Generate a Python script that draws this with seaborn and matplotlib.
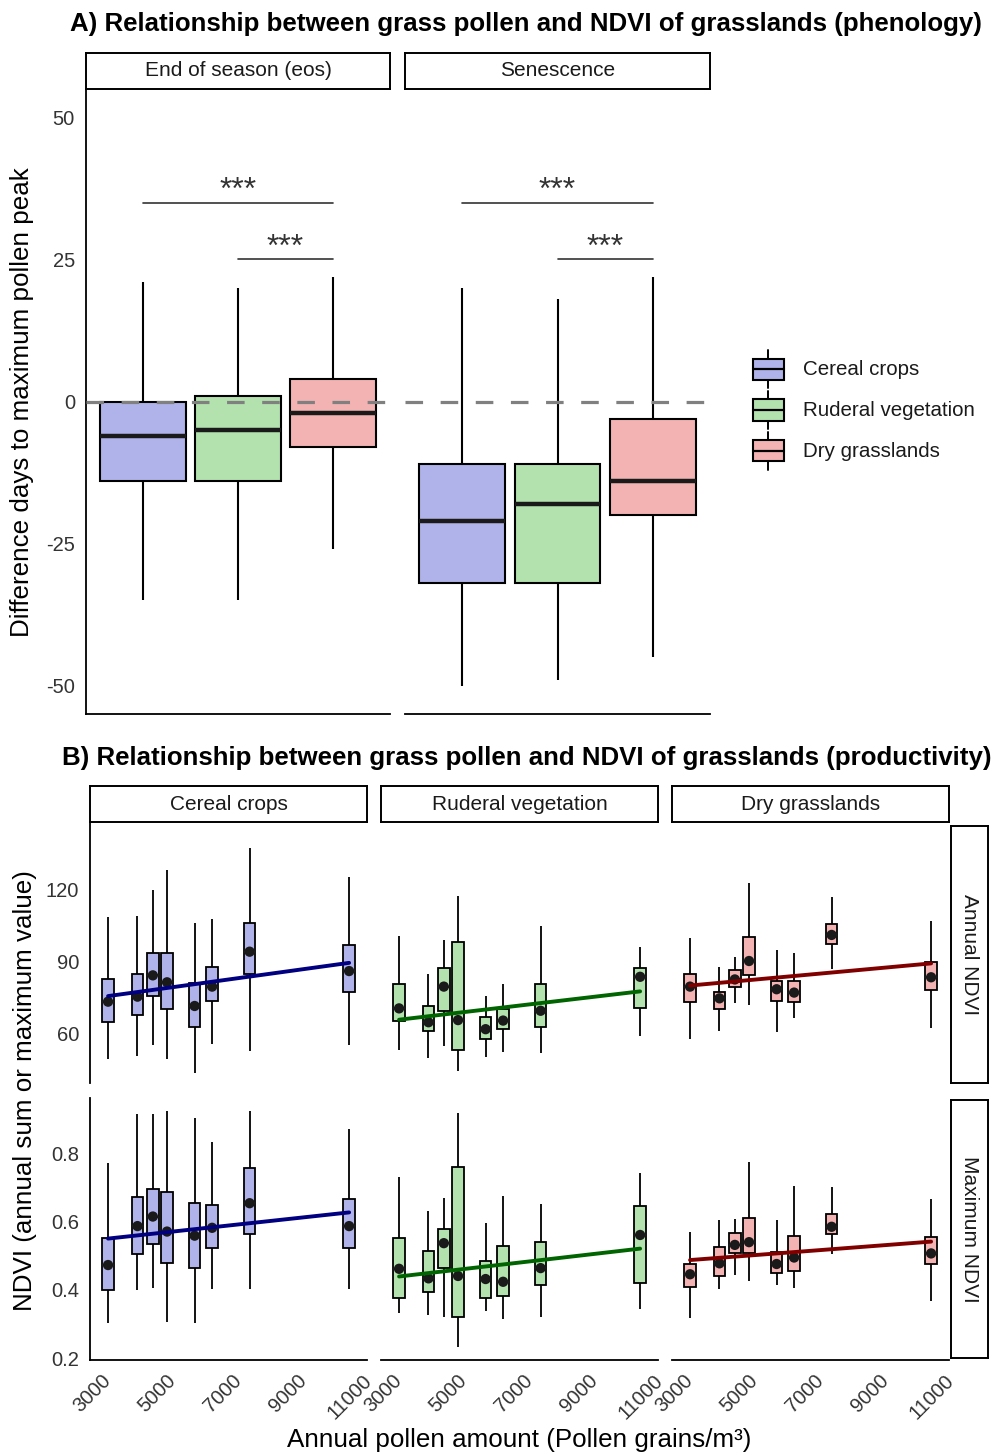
import numpy as np
import pandas as pd
import matplotlib
matplotlib.use("Agg")
import matplotlib.pyplot as plt
import seaborn as sns
from matplotlib.patches import Rectangle, Patch
from matplotlib.lines import Line2D
from matplotlib.legend_handler import HandlerBase

sns.set_theme(style="white")
plt.rcParams['font.family'] = ['Liberation Sans', 'DejaVu Sans']
plt.rcParams['axes.unicode_minus'] = False

# ---------------- data ----------------
groups = ["Cereal crops", "Ruderal vegetation", "Dry grasslands"]
fill_colors = ["#B0B3EA", "#B3E2AF", "#F4B3B3"]
line_colors = ["#000080", "#006400", "#800000"]

phen_stages = ["End of season (eos)", "Senescence"]
# five-number summaries: [whisker low, Q1, median, Q3, whisker high]
eos_cereal = [-35, -14, -6, 0, 21]
eos_ruderal = [-35, -14, -5, 1, 20]
eos_dry = [-26, -8, -2, 4, 22]
sen_cereal = [-50, -32, -21, -11, 20]
sen_ruderal = [-49, -32, -18, -11, 18]
sen_dry = [-45, -20, -14, -3, 22]
# significance brackets: (group a, group b, height, label)
sig_brackets = [(0, 2, 35, "***"), (1, 2, 25, "***")]

annual_pollen = [3214, 4117, 4588, 5024, 5870, 6407, 7558, 10611]
metrics = ["Annual NDVI", "Maximum NDVI"]

cereal_annual = [
    [49.4, 64.7, 73.2, 82.8, 108.7],
    [50.5, 67.6, 75.3, 84.6, 109.1],
    [55.0, 75.6, 84.2, 93.4, 119.9],
    [49.1, 70.3, 81.3, 93.7, 128.2],
    [43.3, 62.5, 71.4, 80.9, 106.0],
    [55.4, 73.5, 79.5, 87.6, 107.6],
    [52.6, 84.8, 94.1, 106.0, 137.3],
    [55.1, 77.4, 86.0, 96.9, 125.2],
]
cereal_max = [
    [0.302, 0.400, 0.473, 0.551, 0.772],
    [0.400, 0.505, 0.587, 0.673, 0.915],
    [0.405, 0.535, 0.615, 0.696, 0.915],
    [0.307, 0.478, 0.571, 0.688, 0.925],
    [0.302, 0.464, 0.559, 0.656, 0.902],
    [0.402, 0.522, 0.582, 0.648, 0.832],
    [0.402, 0.564, 0.654, 0.756, 0.925],
    [0.402, 0.522, 0.587, 0.666, 0.870],
]
ruderal_annual = [
    [53.0, 65.3, 70.4, 80.5, 100.6],
    [49.8, 61.0, 64.6, 71.5, 84.8],
    [54.7, 69.4, 79.5, 87.4, 99.0],
    [44.4, 53.0, 65.5, 98.0, 117.4],
    [50.2, 57.6, 61.7, 66.9, 75.6],
    [52.3, 61.8, 65.3, 70.1, 80.6],
    [51.9, 62.7, 69.4, 80.6, 104.8],
    [58.9, 70.4, 83.6, 87.4, 96.2],
]
ruderal_max = [
    [0.334, 0.376, 0.462, 0.553, 0.732],
    [0.327, 0.394, 0.434, 0.513, 0.632],
    [0.322, 0.464, 0.537, 0.579, 0.668],
    [0.232, 0.322, 0.441, 0.759, 0.917],
    [0.337, 0.376, 0.432, 0.485, 0.595],
    [0.314, 0.382, 0.424, 0.530, 0.675],
    [0.322, 0.415, 0.464, 0.540, 0.652],
    [0.344, 0.420, 0.561, 0.646, 0.742],
]
dry_annual = [
    [57.6, 73.2, 79.5, 84.8, 99.9],
    [61.0, 70.0, 74.6, 77.4, 87.8],
    [72.8, 79.5, 82.5, 86.4, 91.7],
    [71.8, 84.2, 90.2, 100.1, 122.7],
    [60.7, 73.5, 78.4, 81.8, 94.8],
    [66.3, 73.1, 77.0, 81.8, 93.7],
    [86.7, 97.3, 101.1, 105.5, 117.1],
    [62.1, 78.1, 83.4, 89.9, 106.9],
]
dry_max = [
    [0.319, 0.410, 0.446, 0.476, 0.571],
    [0.402, 0.442, 0.478, 0.525, 0.605],
    [0.444, 0.507, 0.532, 0.566, 0.608],
    [0.427, 0.507, 0.540, 0.612, 0.775],
    [0.415, 0.449, 0.476, 0.512, 0.605],
    [0.405, 0.456, 0.495, 0.559, 0.705],
    [0.504, 0.563, 0.585, 0.622, 0.702],
    [0.369, 0.476, 0.507, 0.554, 0.665],
]

a_yticks = [-50, -25, 0, 25, 50]
b_xticks = [3000, 5000, 7000, 9000, 11000]
b_yticks = [[60, 90, 120], [0.2, 0.4, 0.6, 0.8]]
b_yticklabels = [["60", "90", "120"], ["0.2", "0.4", "0.6", "0.8"]]

# ---------------- layout helpers ----------------
W, H = 994, 1455
fig = plt.figure(figsize=(W / 100, H / 100), dpi=100)
fig.patch.set_facecolor("white")

TICK_COLOR = "#333333"
TITLE_FS = 18.6
AXIS_FS = 18.7
STRIP_FS = 15
TICK_FS = 14.5


def rect(x0, y0, x1, y1):
    return [x0 / W, 1 - y1 / H, (x1 - x0) / W, (y1 - y0) / H]


def style(ax, left=True, bottom=True, xticks=True):
    for s in ["top", "right"]:
        ax.spines[s].set_visible(False)
    ax.spines["left"].set_visible(left)
    ax.spines["bottom"].set_visible(bottom)
    for s in ["left", "bottom"]:
        ax.spines[s].set_color("black")
        ax.spines[s].set_linewidth(1.3)
    ax.grid(False)
    ax.set_facecolor("white")
    ax.tick_params(direction="out", length=5, width=1.1, color="black",
                   labelsize=TICK_FS, labelcolor=TICK_COLOR, pad=3)
    if not left:
        ax.tick_params(axis="y", left=False, labelleft=False)
    if not (bottom and xticks):
        ax.tick_params(axis="x", bottom=False, labelbottom=False)
    ax.set_xlabel("")
    ax.set_ylabel("")


def strip(box, text, rotation=0):
    sax = fig.add_axes(rect(*box))
    sax.set_xticks([])
    sax.set_yticks([])
    sax.set_facecolor("white")
    for s in sax.spines.values():
        s.set_visible(True)
        s.set_color("black")
        s.set_linewidth(1.4)
    sax.text(0.5, 0.5, text, ha="center", va="center", fontsize=STRIP_FS,
             color="#1a1a1a", rotation=rotation, transform=sax.transAxes)
    return sax


def five_df(stats_list, keys, keyname):
    rows = []
    for k, st in zip(keys, stats_list):
        for v in st:
            rows.append({keyname: k, "value": v})
    return pd.DataFrame(rows)


# ---------------- Panel A ----------------
fig.text(70 / W, 1 - 24 / H,
         "A) Relationship between grass pollen and NDVI of grasslands (phenology)",
         ha="left", va="center", fontsize=TITLE_FS, fontweight="bold",
         color="black")

a_stats = [[eos_cereal, eos_ruderal, eos_dry], [sen_cereal, sen_ruderal, sen_dry]]
a_boxes = [(86, 89, 390, 714), (405, 89, 710, 714)]
a_strips = [(86, 53, 390, 89), (405, 53, 710, 89)]

for i, stage in enumerate(phen_stages):
    ax = fig.add_axes(rect(*a_boxes[i]))
    df = five_df(a_stats[i], groups, "group")
    sns.boxplot(data=df, x="group", y="value", hue="group", order=groups,
                hue_order=groups, palette=fill_colors, dodge=False,
                whis=(0, 100), width=0.9, saturation=1, linecolor="black",
                linewidth=1.5, showcaps=False, legend=False,
                medianprops=dict(linewidth=3.2, color="#1a1a1a"), ax=ax)
    ax.axhline(0, color="#808080", lw=2.3, dashes=(5.5, 5.5), zorder=6)
    for a, b, h, lab in sig_brackets:
        ax.plot([a, b], [h, h], color="#333333", lw=1.2, zorder=6)
        ax.text((a + b) / 2, h - 0.6, lab, ha="center", va="bottom",
                fontsize=23, color="#333333")
    ax.set_xlim(-0.6, 2.6)
    ax.set_ylim(-55, 55)
    ax.set_yticks(a_yticks)
    ax.set_yticklabels([str(t) for t in a_yticks])
    style(ax, left=(i == 0), bottom=True, xticks=False)
    strip(a_strips[i], stage)

fig.text(22 / W, 1 - 402 / H, "Difference days to maximum pollen peak",
         rotation=90, ha="center", va="center", fontsize=AXIS_FS,
         color="black")


class BoxHandler(HandlerBase):
    def create_artists(self, legend, orig_handle, xdescent, ydescent,
                       width, height, fontsize, trans):
        fc = orig_handle.get_facecolor()
        x0, y0 = -xdescent, -ydescent
        cx, cy = x0 + width / 2, y0 + height / 2
        bw, bh = width * 0.95, height * 0.56
        wh = Line2D([cx, cx], [y0, y0 + height], color="black",
                    lw=1.4, transform=trans)
        box = Rectangle((cx - bw / 2, cy - bh / 2), bw, bh, facecolor=fc,
                        edgecolor="black", lw=1.5, transform=trans)
        med = Line2D([cx - bw / 2, cx + bw / 2], [cy, cy], color="black",
                     lw=1.6, transform=trans)
        return [wh, box, med]


handles = [Patch(facecolor=c, edgecolor="black") for c in fill_colors]
fig.legend(handles, groups, handler_map={Patch: BoxHandler()},
           loc="center left", bbox_to_anchor=(752 / W, 1 - 410 / H),
           frameon=False, borderpad=0, borderaxespad=0, fontsize=14.8,
           handlelength=1.6, handleheight=2.45, labelspacing=0.15,
           handletextpad=0.87, labelcolor="#1a1a1a")

# ---------------- Panel B ----------------
fig.text(62 / W, 1 - 758 / H,
         "B) Relationship between grass pollen and NDVI of grasslands (productivity)",
         ha="left", va="center", fontsize=TITLE_FS, fontweight="bold",
         color="black")

b_data = [[cereal_annual, cereal_max], [ruderal_annual, ruderal_max],
          [dry_annual, dry_max]]
col_x = [(90, 367), (381, 658), (672, 949)]
row_y = [(823, 1083), (1098, 1360)]
b_ylims = [(39.2, 147.9), (0.195, 0.962)]

for c, grp in enumerate(groups):
    for r, metric in enumerate(metrics):
        x0, x1 = col_x[c]
        y0, y1 = row_y[r]
        ax = fig.add_axes(rect(x0, y0, x1, y1))
        stats = b_data[c][r]
        df = five_df(stats, annual_pollen, "pollen")
        sns.boxplot(data=df, x="pollen", y="value", native_scale=True,
                    orient="v", color=fill_colors[c], saturation=1,
                    whis=(0, 100), width=0.82, linecolor="black",
                    linewidth=1.3, showcaps=False,
                    medianprops=dict(linewidth=1.5, color="#1a1a1a"), ax=ax)
        medians = [s[2] for s in stats]
        sns.scatterplot(x=annual_pollen, y=medians, color="#1a1a1a", s=55,
                        edgecolor="none", zorder=4, legend=False, ax=ax)
        sns.regplot(x=annual_pollen, y=medians, scatter=False, ci=None,
                    truncate=True, color=line_colors[c],
                    line_kws=dict(linewidth=2.8, zorder=5), ax=ax)
        ax.set_xlim(2660, 11160)
        ax.set_ylim(*b_ylims[r])
        ax.set_yticks(b_yticks[r])
        ax.set_yticklabels(b_yticklabels[r])
        ax.set_xticks(b_xticks)
        ax.set_xticklabels([str(t) for t in b_xticks], rotation=45,
                           ha="right", rotation_mode="anchor")
        style(ax, left=(c == 0), bottom=(r == 1), xticks=(r == 1))
    strip((col_x[c][0], 786, col_x[c][1], 822), grp)

strip((951, 826, 988, 1083), metrics[0], rotation=-90)
strip((951, 1100, 988, 1358), metrics[1], rotation=-90)

fig.text(25 / W, 1 - 1091 / H, "NDVI (annual sum or maximum value)",
         rotation=90, ha="center", va="center", fontsize=AXIS_FS,
         color="black")
fig.text(519 / W, 1 - 1440 / H, "Annual pollen amount (Pollen grains/m³)",
         ha="center", va="center", fontsize=AXIS_FS, color="black")

fig.savefig("out.png", dpi=100, facecolor="white")
